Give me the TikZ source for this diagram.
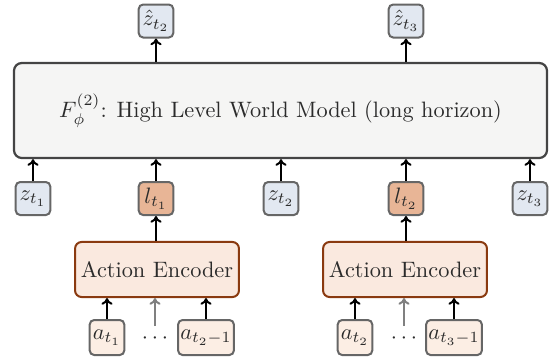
\documentclass[tikz,border=0pt]{standalone}
\usetikzlibrary{arrows.meta}
\definecolor{zfill}{HTML}{E2E8F1}
\definecolor{lfill}{HTML}{E8B596}
\definecolor{encfill}{HTML}{FAE9DF}
\definecolor{encdraw}{HTML}{8A3A10}
\definecolor{afill}{HTML}{FCEEE4}
\definecolor{boxgray}{HTML}{666666}
\definecolor{bigfill}{HTML}{F5F5F4}
\definecolor{bigdraw}{HTML}{444444}
\definecolor{ink}{HTML}{2B2B2B}
\begin{document}
\begin{tikzpicture}[x=0.4484pt,y=-0.4484pt,
  every node/.style={text=ink},
  tok/.style={draw=boxgray,line width=0.9pt,rounded corners=2pt,inner sep=0pt,
    minimum width=15.5pt,minimum height=14.8pt},
  ztok/.style={tok,fill=zfill},
  ltok/.style={tok,fill=lfill},
  atok/.style={tok,fill=afill,minimum height=15.7pt},
  encbox/.style={draw=encdraw,fill=encfill,line width=0.9pt,rounded corners=3pt,
    minimum width=73.5pt,minimum height=24.7pt,inner sep=0pt},
  bigbox/.style={draw=bigdraw,fill=bigfill,line width=1pt,rounded corners=3.5pt,
    minimum width=239pt,minimum height=42.6pt,inner sep=0pt},
  arr/.style={-{To[length=3pt,width=5pt]},line width=0.9pt},
  garr/.style={arr,draw=gray}]
\useasboundingbox (0,0) rectangle (549,358);

% world model
\node[bigbox] (F) at (280.5,110.5) {$F^{(2)}_{\phi}$: High Level World Model (long horizon)};

% predicted outputs
\node[ztok] (zh2) at (156,21) {$\hat z_{t_2}$};
\node[ztok] (zh3) at (406,21) {$\hat z_{t_3}$};

% input tokens
\node[ztok] (z1) at (33,198.5) {$z_{t_1}$};
\node[ltok] (l1) at (156,198.5) {$l_{t_1}$};
\node[ztok] (z2) at (281,198.5) {$z_{t_2}$};
\node[ltok] (l2) at (406,198.5) {$l_{t_2}$};
\node[ztok] (z3) at (530,198.5) {$z_{t_3}$};

% action encoders
\node[encbox] (e1) at (157,269.5) {Action Encoder};
\node[encbox] (e2) at (405,269.5) {Action Encoder};

% actions
\node[atok,minimum width=15.5pt] (a1) at (107,337.5) {$a_{t_1}$};
\node[inner sep=0pt] (d1) at (155,339) {$\cdots$};
\node[atok,minimum width=25pt] (a1e) at (206,337.5) {$a_{t_2-1}$};
\node[atok,minimum width=15.5pt] (a2) at (355,337.5) {$a_{t_2}$};
\node[inner sep=0pt] (d2) at (404,339) {$\cdots$};
\node[atok,minimum width=25pt] (a2e) at (454,337.5) {$a_{t_3-1}$};

\coordinate (g1) at (155,326);
\coordinate (g2) at (404,326);

% connectors
\draw[arr] (F.north -| zh2) -- (zh2.south);
\draw[arr] (F.north -| zh3) -- (zh3.south);
\foreach \n in {z1,l1,z2,l2,z3}
  \draw[arr] (\n.north) -- (\n.north |- F.south);
\draw[arr] (e1.north -| l1) -- (l1.south);
\draw[arr] (e2.north -| l2) -- (l2.south);
\draw[arr] (a1.north) -- (a1.north |- e1.south);
\draw[arr] (a1e.north) -- (a1e.north |- e1.south);
\draw[arr] (a2.north) -- (a2.north |- e2.south);
\draw[arr] (a2e.north) -- (a2e.north |- e2.south);
\draw[garr] (g1) -- (g1 |- e1.south);
\draw[garr] (g2) -- (g2 |- e2.south);
\end{tikzpicture}
\end{document}
